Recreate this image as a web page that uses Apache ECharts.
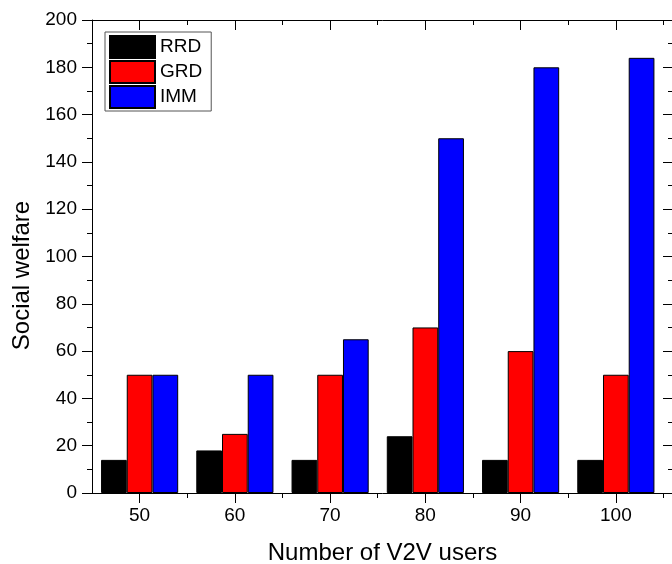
<!DOCTYPE html>
<html>
<head>
<meta charset="utf-8">
<script src="https://cdn.jsdelivr.net/npm/echarts@6/dist/echarts.min.js"></script>
<style>
  html, body { margin: 0; padding: 0; background: #fff; }
  #chart { width: 672px; height: 564px; }
</style>
</head>
<body>
<div id="chart"></div>
<script>
// datos
const users = [50, 60, 70, 80, 90, 100];
const rrd = [14, 18, 14, 24, 14, 14];
const grd = [50, 25, 50, 70, 60, 50];
const imm = [50, 50, 65, 150, 180, 184];
const minorX = [55, 65, 75, 85, 95, 105];

const font = 'Liberation Sans, Arial, sans-serif';
const black = '#000';

const pairs = (vals) => users.map((u, i) => [u, vals[i]]);

const barSeries = (name, color, vals) => ({
  name: name,
  type: 'bar',
  xAxisIndex: 0,
  yAxisIndex: 0,
  barGap: '0%',
  barCategoryGap: '19%',
  itemStyle: { color: color, borderColor: black, borderWidth: 1 },
  data: pairs(vals)
});

const xBase = {
  type: 'value',
  min: 45,
  max: 106,
  splitLine: { show: false },
  axisLine: { show: true, lineStyle: { color: black, width: 1 } }
};

const getOption = () => {
  return {
    animation: false,
    backgroundColor: '#fff',
    grid: { left: 92, top: 20, width: 581, height: 473, containLabel: false, outerBoundsMode: 'none' },
    legend: {
      orient: 'vertical',
      left: 105,
      top: 32,
      icon: 'rect',
      itemWidth: 45,
      itemHeight: 22,
      itemGap: 1,
      padding: [3, 9, 2, 4],
      backgroundColor: '#fff',
      borderColor: '#555',
      borderWidth: 1,
      borderRadius: 0,
      textStyle: { fontFamily: font, fontSize: 19, lineHeight: 22, color: black },
      data: ['RRD', 'GRD', 'IMM']
    },
    xAxis: [
      Object.assign({}, xBase, {
        position: 'bottom',
        name: 'Number of V2V users',
        nameLocation: 'middle',
        nameGap: 48,
        nameTextStyle: { fontFamily: font, fontSize: 24, color: black },
        axisTick: { show: true, length: 10, customValues: users, lineStyle: { color: black } },
        axisLabel: { show: true, customValues: users, margin: 13, fontFamily: font, fontSize: 19, color: black }
      }),
      Object.assign({}, xBase, {
        position: 'bottom',
        axisLine: { show: false },
        axisTick: { show: true, length: 5, customValues: minorX, lineStyle: { color: black } },
        axisLabel: { show: false }
      }),
      Object.assign({}, xBase, {
        position: 'top',
        axisTick: { show: true, inside: true, length: 10, customValues: users, lineStyle: { color: black } },
        axisLabel: { show: false }
      }),
      Object.assign({}, xBase, {
        position: 'top',
        axisLine: { show: false },
        axisTick: { show: true, inside: true, length: 5, customValues: minorX, lineStyle: { color: black } },
        axisLabel: { show: false }
      })
    ],
    yAxis: [
      {
        type: 'value',
        position: 'left',
        min: 0,
        max: 200,
        interval: 20,
        name: 'Social welfare',
        nameLocation: 'middle',
        nameGap: 55,
        nameTextStyle: { fontFamily: font, fontSize: 24, color: black, padding: [0, 38, 0, 0] },
        splitLine: { show: false },
        axisLine: { show: true, lineStyle: { color: black, width: 1 } },
        axisTick: { show: true, length: 10, lineStyle: { color: black } },
        minorTick: { show: true, splitNumber: 2, length: 5, lineStyle: { color: black } },
        axisLabel: { margin: 15, fontFamily: font, fontSize: 19, color: black }
      },
      {
        type: 'value',
        position: 'right',
        min: 0,
        max: 200,
        interval: 20,
        splitLine: { show: false },
        axisLine: { show: true, lineStyle: { color: black, width: 1 } },
        axisTick: { show: true, inside: true, length: 10, lineStyle: { color: black } },
        minorTick: { show: true, splitNumber: 2, length: 5, lineStyle: { color: black } },
        axisLabel: { show: false }
      }
    ],
    series: [
      barSeries('RRD', '#000000', rrd),
      barSeries('GRD', '#ff0000', grd),
      barSeries('IMM', '#0000ff', imm)
    ]
  };
};

const iniciarChart = () => {
  const chart = echarts.init(document.getElementById('chart'), null, { renderer: 'canvas' });
  chart.setOption(getOption());
};

window.addEventListener('load', () => {
  iniciarChart();
});
</script>
</body>
</html>
